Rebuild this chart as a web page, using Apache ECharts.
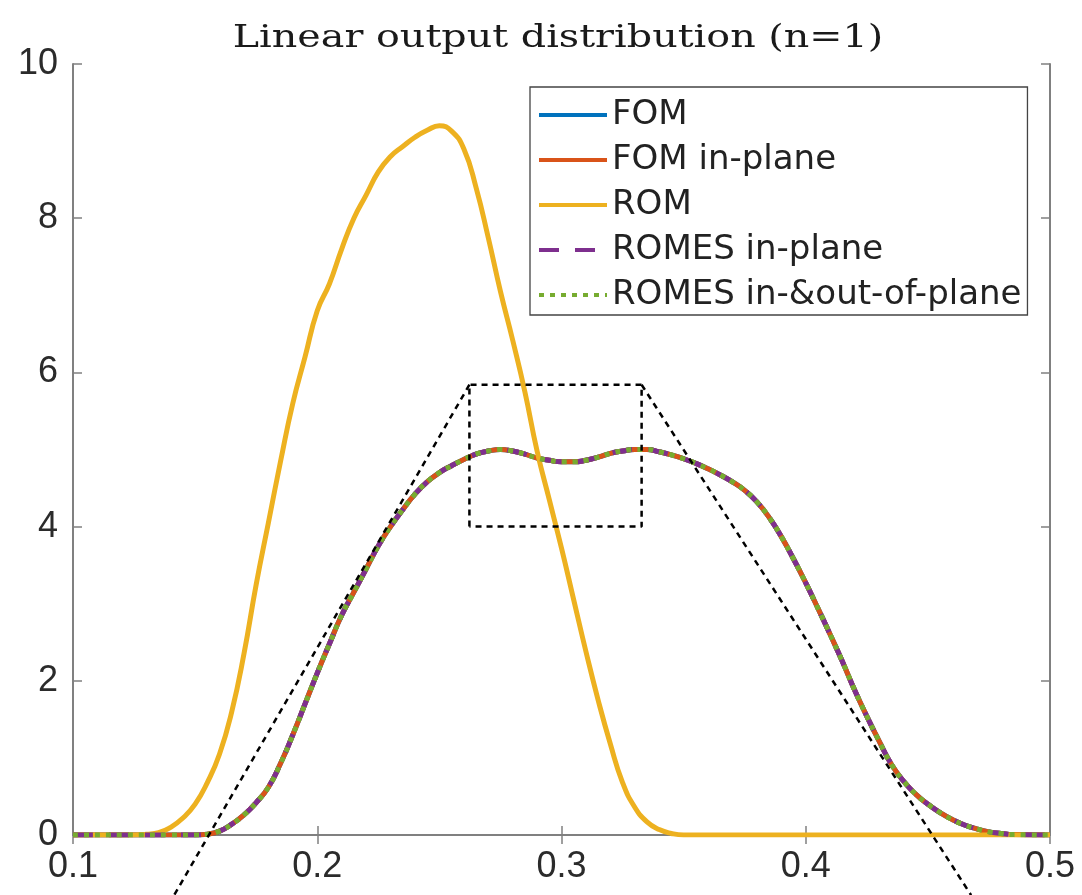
<!DOCTYPE html>
<html>
<head>
<meta charset="utf-8">
<script src="https://cdn.jsdelivr.net/npm/echarts@6/dist/echarts.min.js"></script>
<style>
html,body{margin:0;padding:0;background:#fff;}
#chart{width:1082px;height:895px;}
</style>
</head>
<body>
<div id="chart"></div>
<script>
// ---- data ----
const titleText = 'Linear output distribution (n=1)';
const seriesNames = ['FOM', 'FOM in-plane', 'ROM', 'ROMES in-plane', 'ROMES in-&out-of-plane'];
const xTickValues = [0.1, 0.2, 0.3, 0.4, 0.5];
const yTickValues = [0, 2, 4, 6, 8, 10];

const romX = [0.10,0.125,0.13,0.135,0.14,0.145,0.15,0.155,0.16,0.165,0.17,0.175,0.18,0.185,0.19,0.195,0.20,0.205,0.21,0.215,0.22,0.225,0.23,0.235,0.24,0.245,0.25,0.255,0.26,0.265,0.27,0.275,0.28,0.285,0.29,0.295,0.30,0.305,0.31,0.315,0.32,0.325,0.33,0.335,0.34,0.345,0.35,0.50];
const romY = [0,0,0.01,0.03,0.1,0.22,0.4,0.68,1.05,1.6,2.35,3.25,4.05,4.85,5.6,6.2,6.8,7.15,7.6,8.0,8.3,8.6,8.8,8.93,9.05,9.14,9.2,9.13,8.9,8.4,7.75,7.05,6.42,5.75,4.98,4.35,3.72,3.05,2.38,1.75,1.18,0.68,0.36,0.17,0.07,0.02,0,0];

const fomX = [0.10,0.15,0.155,0.16,0.165,0.17,0.175,0.18,0.185,0.19,0.195,0.20,0.205,0.21,0.215,0.22,0.225,0.23,0.235,0.24,0.245,0.25,0.255,0.26,0.265,0.27,0.275,0.28,0.285,0.29,0.295,0.30,0.305,0.31,0.315,0.32,0.325,0.33,0.335,0.34,0.345,0.35,0.355,0.36,0.365,0.37,0.375,0.38,0.385,0.39,0.395,0.40,0.405,0.41,0.415,0.42,0.425,0.43,0.435,0.44,0.445,0.45,0.455,0.46,0.465,0.47,0.475,0.48,0.485,0.50];
const fomY = [0,0,0.01,0.05,0.14,0.26,0.42,0.62,0.93,1.3,1.7,2.1,2.48,2.85,3.15,3.45,3.75,4.0,4.22,4.42,4.58,4.7,4.79,4.87,4.94,4.98,5.0,4.98,4.94,4.89,4.86,4.84,4.84,4.86,4.9,4.95,4.98,5.0,5.0,4.97,4.93,4.88,4.82,4.75,4.67,4.58,4.47,4.32,4.12,3.87,3.58,3.27,2.94,2.6,2.25,1.88,1.54,1.22,0.92,0.7,0.53,0.4,0.29,0.2,0.13,0.08,0.04,0.02,0.005,0];
// the other full/reduced in-plane curves are visually indistinguishable from FOM
const fomInPlaneY = fomY.slice();
const romesInPlaneY = fomY.slice();
const romesInOutY = fomY.slice();

// zoom box (data coordinates) and its connector lines
const zoomBoxX = [0.2623, 0.3328];
const zoomBoxY = [4.0, 5.84];
const connectorLeft = [[0.2623, 5.84], [0.1414, -0.78]];
const connectorRight = [[0.3328, 5.84], [0.4677, -0.78]];

const colors = ['#0072BD', '#D95319', '#EDB120', '#7E2F8E', '#77AC30'];

function pairs(xs, ys){ return xs.map((x,i)=>[x, ys[i]]); }

const chart = echarts.init(document.getElementById('chart'), null, {renderer:'canvas'});
const axisColor = '#808080';
const labelFont = {fontFamily:'Liberation Sans', fontSize:36, color:'#2b2b2b'};

const lineBase = {type:'line', showSymbol:false, symbol:'none', smooth:0.5, animation:false, z:3};

const option = {
  animation:false,
  backgroundColor:'#fff',
  graphic:[{
    type:'text', x:558, y:22, scaleX:1.22, silent:true,
    style:{text:titleText, font:'32.5px "DejaVu Serif"', fill:'#1a1a1a', textAlign:'center', textVerticalAlign:'top'}
  }],
  grid:{left:73, right:32, top:64, bottom:60, show:false},
  legend:{
    data:seriesNames, orient:'vertical', left:530, top:87,
    padding:[11,6,3,7],
    itemWidth:68, itemHeight:30, itemGap:11,
    backgroundColor:'#fff', borderColor:'#444', borderWidth:1.3,
    itemStyle:{opacity:0},
    lineStyle:{width:4},
    textStyle:{fontFamily:'DejaVu Sans', fontSize:34, color:'#222', lineHeight:30},
    selectedMode:false
  },
  xAxis:[
    {type:'value', min:0.1, max:0.5, interval:0.1, position:'bottom',
     axisLine:{show:true, lineStyle:{color:axisColor, width:2}},
     axisTick:{show:true, inside:true, length:9, lineStyle:{color:axisColor, width:1.5}},
     axisLabel:Object.assign({margin:14, formatter:v=>v.toFixed(1), showMinLabel:true, showMaxLabel:true}, labelFont),
     splitLine:{show:false}},
    {type:'value', min:0.1, max:0.5, interval:0.1, position:'top',
     axisLine:{show:true, lineStyle:{color:axisColor, width:2}},
     axisTick:{show:true, inside:true, length:9, lineStyle:{color:axisColor, width:1.5}},
     axisLabel:{show:false}, splitLine:{show:false}}
  ],
  yAxis:[
    {type:'value', min:0, max:10, interval:2, position:'left',
     axisLine:{show:true, lineStyle:{color:axisColor, width:2}},
     axisTick:{show:true, inside:true, length:9, lineStyle:{color:axisColor, width:1.5}},
     axisLabel:Object.assign({margin:15}, labelFont),
     splitLine:{show:false}},
    {type:'value', min:0, max:10, interval:2, position:'right',
     axisLine:{show:true, lineStyle:{color:axisColor, width:2}},
     axisTick:{show:true, inside:true, length:9, lineStyle:{color:axisColor, width:1.5}},
     axisLabel:{show:false}, splitLine:{show:false}}
  ],
  series:[
    Object.assign({}, lineBase, {name:seriesNames[0], data:pairs(fomX, fomY), color:colors[0], lineStyle:{color:colors[0], width:5}}),
    Object.assign({}, lineBase, {name:seriesNames[1], data:pairs(fomX, fomInPlaneY), color:colors[1], lineStyle:{color:colors[1], width:5}}),
    Object.assign({}, lineBase, {name:seriesNames[2], data:pairs(romX, romY), color:colors[2], lineStyle:{color:colors[2], width:5}}),
    Object.assign({}, lineBase, {name:seriesNames[3], data:pairs(fomX, romesInPlaneY), color:colors[3], lineStyle:{color:colors[3], width:5, type:[20,16]}}),
    Object.assign({}, lineBase, {name:seriesNames[4], data:pairs(fomX, romesInOutY), color:colors[4], lineStyle:{color:colors[4], width:5, type:[5,6]}}),
    {type:'line', name:'zoomBox', silent:true, symbol:'none', animation:false, z:5, clip:false,
     data:[[zoomBoxX[0],zoomBoxY[0]],[zoomBoxX[0],zoomBoxY[1]],[zoomBoxX[1],zoomBoxY[1]],[zoomBoxX[1],zoomBoxY[0]],[zoomBoxX[0],zoomBoxY[0]]],
     lineStyle:{color:'#000', width:2.5, type:[6,5]}},
    {type:'line', name:'connL', silent:true, symbol:'none', animation:false, z:5, clip:false,
     data:connectorLeft, lineStyle:{color:'#000', width:2.5, type:[6,5]}},
    {type:'line', name:'connR', silent:true, symbol:'none', animation:false, z:5, clip:false,
     data:connectorRight, lineStyle:{color:'#000', width:2.5, type:[6,5]}}
  ]
};
chart.setOption(option);
</script>
</body>
</html>
